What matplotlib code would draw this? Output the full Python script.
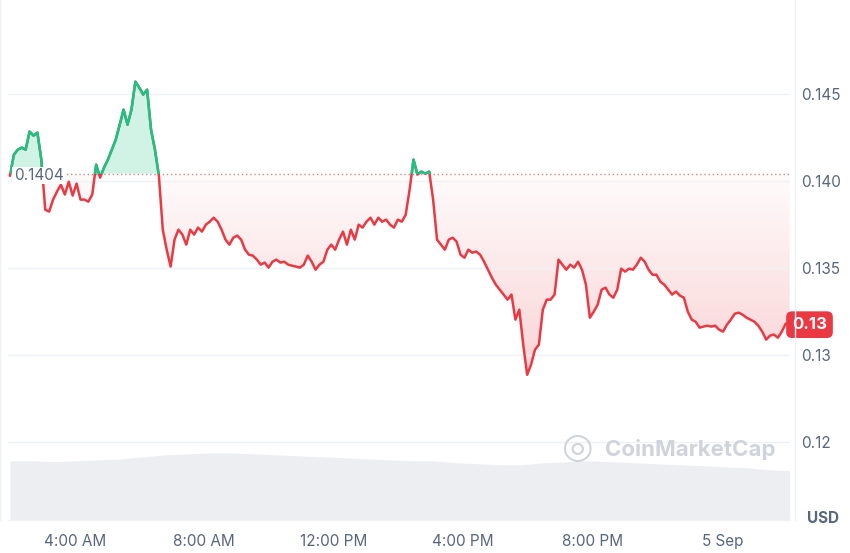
import numpy as np
import matplotlib.pyplot as plt
from matplotlib.patches import Rectangle
from matplotlib.path import Path
from matplotlib.colors import LinearSegmentedColormap
from datetime import datetime, timedelta
import matplotlib.dates as mdates

plt.rcParams['font.family'] = ['Inter', 'DejaVu Sans']

# price in units of 1e-4 USD, sampled evenly over the day
price = [1402.9, 1415, 1417.8, 1419, 1417.8, 1428.2, 1425.9, 1427.6, 1412.1, 1383.3, 1382.2, 1389.1,
         1393.7, 1397.7, 1392, 1399.4, 1391.4, 1398.3, 1389.1, 1389.1, 1387.9, 1392, 1409.2, 1401.7,
         1407.5, 1412.1, 1417.8, 1423.6, 1432.2, 1440.8, 1432.2, 1440.8, 1456.9, 1453.5, 1449.5, 1452.3,
         1429.3, 1417.8, 1402.9, 1371.8, 1360.3, 1350.6, 1366.1, 1371.8, 1369, 1363.2, 1371.8, 1369,
         1373, 1370.7, 1374.7, 1376.4, 1378.7, 1376.4, 1371.8, 1366.1, 1363.2, 1367.2, 1368.4, 1366.1,
         1360.3, 1357.4, 1356.9, 1354.6, 1351.7, 1352.9, 1350, 1353.4, 1354.6, 1352.9, 1353.4, 1351.7,
         1351.1, 1350.6, 1350, 1351.7, 1356.9, 1353.4, 1348.8, 1351.7, 1353.4, 1360.3, 1363.2, 1360.3,
         1366.1, 1370.7, 1363.2, 1371.8, 1366.1, 1374.7, 1373, 1376.4, 1378.7, 1374.7, 1378.7, 1376.4,
         1377.6, 1374.7, 1373, 1377.6, 1376.4, 1380.4, 1394.8, 1412.1, 1403.5, 1405.2, 1404, 1405.2,
         1389.1, 1366.1, 1363.2, 1360.3, 1366.1, 1367.2, 1364.9, 1357.4, 1355.7, 1360.3, 1358.6, 1359.2,
         1357.4, 1353.4, 1348.8, 1344.2, 1340.2, 1337.3, 1334.5, 1331.6, 1334.5, 1320.1, 1325.8, 1305.7,
         1288.4, 1294.2, 1302.8, 1305.7, 1325.8, 1331.6, 1331.6, 1334.5, 1354.6, 1351.7, 1348.8, 1351.7,
         1350, 1353.4, 1348.8, 1340.2, 1321.2, 1324.7, 1328.7, 1337.3, 1338.5, 1334.5, 1332.7, 1337.3,
         1349.4, 1347.7, 1349.4, 1348.8, 1351.7, 1355.7, 1353.4, 1348.8, 1345.9, 1345.9, 1341.9, 1340.2,
         1337.3, 1334.5, 1336.2, 1333.9, 1332.7, 1324.7, 1320.1, 1318.9, 1315.5, 1316.1, 1316.6, 1316.1,
         1316.6, 1314.3, 1313.2, 1317.2, 1320.1, 1323.5, 1324.1, 1322.9, 1321.2, 1320.1, 1318.9, 1316.6,
         1313.2, 1308.6, 1310.9, 1311.5, 1309.7, 1313.2, 1317.8, 1317.2]
volume = [60, 60, 59, 60, 61, 62, 64, 66, 67, 68, 68, 67, 66, 65, 64, 63, 62, 61, 60, 60,
          58, 57, 56, 56, 58, 59, 60, 59, 58, 57, 56, 55, 54, 53, 51, 50]
base_price = 0.1404
ytick_vals = [0.125, 0.13, 0.135, 0.14, 0.145]
ytick_labels = ['0.12', '0.13', '0.135', '0.140', '0.145']

start = datetime(2024, 9, 4, 2, 0)
end = datetime(2024, 9, 5, 2, 5)
p = np.array(price) / 1e4
t = [start + (end - start) * i / (len(p) - 1) for i in range(len(p))]
tn = mdates.date2num(t)
tv = mdates.date2num([start + (end - start) * i / (len(volume) - 1) for i in range(len(volume))])

fig = plt.figure(figsize=(8.5, 5.53), dpi=100)
ax = fig.add_axes([0.009, 0.06, 0.92, 0.931])
ylo, yhi = 0.1205, 0.1501

# volume on a separate axis in the bottom strip
axv = ax.twinx()
axv.fill_between(tv, 0, volume, color='#eceef2', lw=0)
axv.set_ylim(0, 68 / 0.13)
axv.axis('off')
ax.set_zorder(axv.get_zorder() + 1)
ax.patch.set_visible(False)

red = '#ea3943'
green = '#16c784'
# red gradient fill below baseline
grad = np.linspace(0.22, 0.02, 256).reshape(-1, 1)
cmap = LinearSegmentedColormap.from_list('r', ['#ffffff', red])
im = ax.imshow(grad, extent=[tn[0], tn[-1], 0.1288, base_price], aspect='auto',
               cmap=cmap, vmin=0, vmax=1, origin='lower', zorder=1)
im.set_alpha(1.0)
poly = ax.fill_between(tn, p, base_price, where=p <= base_price, interpolate=True,
                       color='none', lw=0)
clip = Path.make_compound_path(*poly.get_paths())
im.set_clip_path(clip, transform=ax.transData)
ax.fill_between(tn, p, base_price, where=p >= base_price, interpolate=True,
                color=green, alpha=0.2, lw=0)

ax.plot(tn, p, color=red, lw=1.8, zorder=3)
gl, = ax.plot(tn, p, color=green, lw=1.8, zorder=4)
gl.set_clip_path(Rectangle((tn[0], base_price), tn[-1] - tn[0], 1, transform=ax.transData))

ax.axhline(base_price, color='#d08a8e', lw=1, ls=(0, (1, 2)), zorder=2)
ax.text(tn[0] + 0.005, base_price - 0.0001, '0.1404', fontsize=11, color='#58667e', va='center',
        bbox=dict(fc='white', ec='none', pad=1), zorder=5)

ax.set_xlim(tn[0] - 0.003, tn[-1])
ax.set_ylim(ylo, yhi)
ax.yaxis.tick_right()
ax.set_yticks(ytick_vals, ytick_labels)
ax.grid(axis='y', color='#eff2f5', lw=1)
xt = [start + timedelta(hours=h) for h in (2, 6, 10, 14, 18, 22)]
ax.set_xticks(mdates.date2num(xt), ['4:00 AM', '8:00 AM', '12:00 PM', '4:00 PM', '8:00 PM', '5 Sep'])
ax.tick_params(length=0, labelsize=11, colors='#58667e', pad=10)
ax.tick_params(axis='y', pad=8)
for s in ['top', 'left', 'right']:
    ax.spines[s].set_visible(False)
ax.spines['bottom'].set_color('#eff2f5')
fig.add_artist(plt.Line2D([0.935, 0.935], [0.06, 1.0], color='#eff2f5', lw=1))
fig.add_artist(plt.Line2D([0.0, 0.0], [0.06, 1.0], color='#eff2f5', lw=1))

ax.text(1.003, p[-1], '0.13', transform=ax.get_yaxis_transform(), fontsize=12, color='white',
        fontweight='bold', va='center', ha='left',
        bbox=dict(boxstyle='round,pad=0.35', fc=red, ec='none'), zorder=6)
fig.text(0.968, 0.055, 'USD', fontsize=11, color='#58667e', ha='center', fontweight='bold')
fig.text(0.712, 0.188, 'CoinMarketCap', fontsize=16, color='#cfd4dc', fontweight='bold', va='center')
fig.text(0.68, 0.19, '◎', fontsize=26, color='#cfd4dc', va='center', ha='center')

fig.savefig('out.png', dpi=100)
